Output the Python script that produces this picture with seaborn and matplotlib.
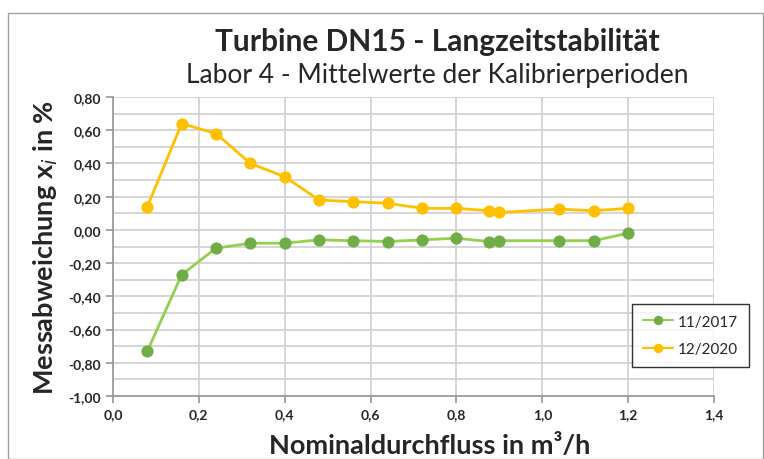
import matplotlib
matplotlib.use("Agg")
import matplotlib.pyplot as plt
import seaborn as sns
import pandas as pd
import numpy as np
from matplotlib.ticker import MultipleLocator, FuncFormatter

sns.set_theme(style="white")
plt.rcParams['font.family'] = ['Lato', 'DejaVu Sans']

flow = [0.08, 0.16, 0.24, 0.32, 0.40, 0.48, 0.56, 0.64, 0.72, 0.80, 0.875, 0.90, 1.04, 1.12, 1.20]
dev_2017 = [-0.73, -0.27, -0.11, -0.08, -0.08, -0.06, -0.065, -0.07, -0.06, -0.05, -0.07, -0.065, -0.065, -0.065, -0.02]
dev_2020 = [0.14, 0.64, 0.58, 0.40, 0.32, 0.18, 0.17, 0.16, 0.13, 0.13, 0.115, 0.105, 0.125, 0.115, 0.13]
labels = ["11/2017", "12/2020"]

df = pd.DataFrame({
    "flow": flow * 2,
    "dev": dev_2017 + dev_2020,
    "series": [labels[0]] * len(flow) + [labels[1]] * len(flow),
})

fig = plt.figure(figsize=(7.64, 4.6), dpi=100)
ax = fig.add_axes([113/764, 1-397/460, (714-113)/764, (397-98)/460])

line_colors = {"11/2017": "#92D050", "12/2020": "#FFC000"}
marker_colors = {"11/2017": "#70AD47", "12/2020": "#FFC000"}
for lab in labels:
    sub = df[df.series == lab]
    sns.lineplot(data=sub, x="flow", y="dev", ax=ax, color=line_colors[lab], lw=2,
                 marker="o", markersize=8, markerfacecolor=marker_colors[lab],
                 markeredgecolor=marker_colors[lab], label=lab, zorder=3)

ax.set_xlim(0, 1.4)
ax.set_ylim(-1.0, 0.8)
ax.xaxis.set_major_locator(MultipleLocator(0.2))
ax.yaxis.set_major_locator(MultipleLocator(0.2))
ax.yaxis.set_minor_locator(MultipleLocator(0.1))
ax.grid(True, which="major", color="#D0D0D0", lw=1.2)
ax.grid(True, which="minor", axis="y", color="#D0D0D0", lw=1.2)
ax.set_axisbelow(True)
for s in ["top", "right"]:
    ax.spines[s].set_visible(False)
ax.spines["left"].set_color("#999999")
ax.spines["bottom"].set_color("#999999")
ax.xaxis.set_major_formatter(FuncFormatter(lambda v, p: f"{v:.1f}".replace(".", ",")))
ax.yaxis.set_major_formatter(FuncFormatter(lambda v, p: f"{v:.2f}".replace(".", ",").replace("-0,00", "0,00")))
ax.tick_params(axis="both", which="major", labelsize=10, length=5, color="#999999", direction="out", bottom=True, left=True)
for t in ax.get_xticklabels() + ax.get_yticklabels():
    t.set_fontweight("bold")

ax.set_xlabel("Nominaldurchfluss in m³/h", fontsize=19.5, fontweight="bold")
ax.xaxis.set_label_coords((430-113)/601, -0.125)
ax.set_ylabel(r"Messabweichung x$_\mathit{i}$ in %", fontsize=19.5, fontweight="bold", labelpad=6)

fig.text(437/764, 1-42/460, "Turbine DN15 - Langzeitstabilität", ha="center", va="center", fontsize=21.5, fontweight="bold")
fig.text(437/764, 1-75/460, "Labor 4 - Mittelwerte der Kalibrierperioden", ha="center", va="center", fontsize=19)

leg = ax.legend(loc="upper left", bbox_to_anchor=((632-113)/601, (397-305)/299), frameon=True,
                fontsize=11, fancybox=False, edgecolor="black", handlelength=2.0, handletextpad=0.3,
                labelspacing=0.9, borderpad=0.7, borderaxespad=0, markerscale=0.75)
leg.get_frame().set_linewidth(1.0)
for h in leg.get_lines():
    h.set_linewidth(1.5)

border = plt.Rectangle((8/764, 0), 1-8/764-1/764, 1-14/460, transform=fig.transFigure, fill=False, edgecolor="#A0A0A0", lw=1)
fig.patches.append(border)

fig.savefig("out.png", dpi=100)
